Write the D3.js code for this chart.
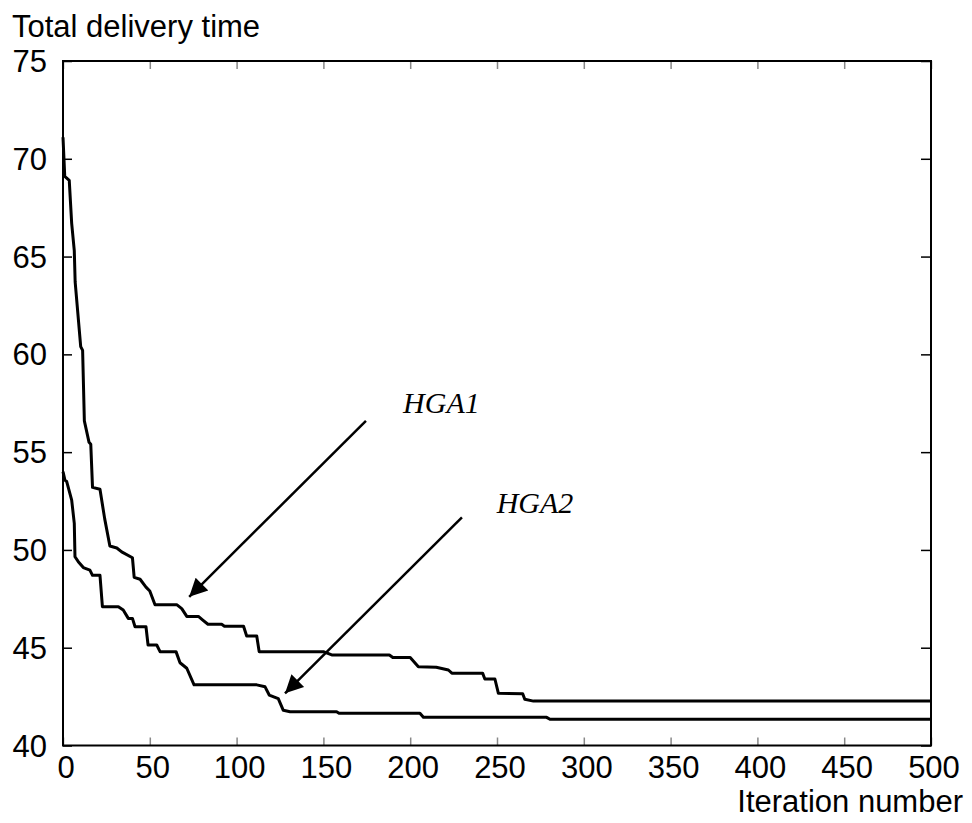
<!DOCTYPE html>
<html>
<head>
<meta charset="utf-8">
<script src="https://cdn.jsdelivr.net/npm/d3@7"></script>
<style>
  html, body { margin: 0; padding: 0; background: #fff; }
  svg { display: block; }
</style>
</head>
<body>
<svg id="chart" width="972" height="823"></svg>
<script>
// ---- data ----
const xTicks = [0, 50, 100, 150, 200, 250, 300, 350, 400, 450, 500];
const yTicks = [40, 45, 50, 55, 60, 65, 70, 75];

const hga1Iter = [0, 1, 3.6, 5, 6.5, 7, 10.2, 11.3, 12.3, 15, 16, 17, 21.3, 24, 27, 31, 33.8, 40, 41, 44.4, 47.8, 50, 53, 65.5, 68.4, 71.3, 78, 80.7, 83.5, 91.4, 93, 104, 105.8, 111.6, 113, 150, 154.8, 188, 190, 200, 204.7, 215, 222, 224, 241.7, 243, 248.8, 250.8, 264.8, 266, 271, 500];
const hga1Value = [71.1, 69.1, 68.9, 66.7, 65.3, 63.7, 60.4, 60.2, 56.6, 55.5, 55.4, 53.2, 53.1, 51.6, 50.2, 50.1, 49.9, 49.6, 48.6, 48.5, 48.1, 47.9, 47.2, 47.2, 47.0, 46.6, 46.6, 46.4, 46.2, 46.2, 46.1, 46.1, 45.6, 45.6, 44.8, 44.8, 44.63, 44.63, 44.5, 44.5, 44.03, 44.0, 43.86, 43.7, 43.7, 43.4, 43.4, 42.67, 42.65, 42.36, 42.27, 42.27];

const hga2Iter = [0, 1.1, 2.1, 5, 6.5, 6.9, 8.8, 11.7, 15.5, 17, 21.3, 22.7, 31.9, 34.7, 37.6, 40, 41.5, 47.8, 49, 54, 55.9, 65.1, 67.4, 71.3, 75.5, 111.6, 116.4, 118.8, 124, 126.9, 130.8, 157.6, 159, 205.6, 207.6, 278.6, 280.5, 500];
const hga2Value = [54.0, 53.57, 53.5, 52.55, 51.36, 49.65, 49.4, 49.1, 48.97, 48.7, 48.7, 47.1, 47.1, 46.93, 46.5, 46.5, 46.07, 46.07, 45.14, 45.14, 44.8, 44.8, 44.23, 43.95, 43.1, 43.1, 43.0, 42.58, 42.4, 41.8, 41.73, 41.73, 41.65, 41.65, 41.44, 41.44, 41.34, 41.34];

const labelNames = ["HGA1", "HGA2"];
const labelIter = [195.9, 249.8];
const labelValue = [57.0, 51.87];
const arrowFromIter = [174.5, 229.8];
const arrowFromValue = [56.6, 51.67];
const arrowToIter = [72.7, 127.9];
const arrowToValue = [47.6, 42.67];

const yTitle = "Total delivery time";
const xTitle = "Iteration number";

// ---- drawing ----
(function () {
const svg = d3.select("#chart");
const mLeft = 63, mRight = 931, mTop = 61, mBottom = 745.5;

const x = d3.scaleLinear().domain([0, 500]).range([mLeft, mRight]);
const y = d3.scaleLinear().domain([40, 75]).range([mBottom, mTop]);

const sans = "Liberation Sans, Arial, sans-serif";
const fs = 31;

// arrow marker
svg.append("defs").append("marker")
  .attr("id", "arrowhead")
  .attr("viewBox", "0 0 10 10")
  .attr("refX", 10).attr("refY", 5)
  .attr("markerUnits", "userSpaceOnUse")
  .attr("markerWidth", 26).attr("markerHeight", 18)
  .attr("orient", "auto")
  .append("path")
  .attr("d", "M0,0 L10,5 L0,10 z")
  .attr("fill", "#000");

// x ticks (grey, inside, bottom and top)
const xAxisB = d3.axisBottom(x).tickValues(xTicks).tickSize(-8).tickFormat("");
const gxb = svg.append("g").attr("transform", `translate(0,${mBottom})`).call(xAxisB);
gxb.select(".domain").remove();
gxb.selectAll(".tick line").attr("stroke", "#888").attr("stroke-width", 1.5);

const xAxisT = d3.axisTop(x).tickValues(xTicks).tickSize(-8).tickFormat("");
const gxt = svg.append("g").attr("transform", `translate(0,${mTop})`).call(xAxisT);
gxt.select(".domain").remove();
gxt.selectAll(".tick line").attr("stroke", "#888").attr("stroke-width", 1.5);

// y ticks (black, inside, left and right)
const yAxisL = d3.axisLeft(y).tickValues(yTicks).tickSize(-9).tickFormat("");
const gyl = svg.append("g").attr("transform", `translate(${mLeft},0)`).call(yAxisL);
gyl.select(".domain").remove();
gyl.selectAll(".tick line").attr("stroke", "#000").attr("stroke-width", 1.5);

const yAxisR = d3.axisRight(y).tickValues(yTicks).tickSize(-10).tickFormat("");
const gyr = svg.append("g").attr("transform", `translate(${mRight},0)`).call(yAxisR);
gyr.select(".domain").remove();
gyr.selectAll(".tick line").attr("stroke", "#000").attr("stroke-width", 1.5);

// frame
svg.append("rect")
  .attr("x", mLeft).attr("y", mTop)
  .attr("width", mRight - mLeft).attr("height", mBottom - mTop)
  .attr("fill", "none").attr("stroke", "#000").attr("stroke-width", 2);

// tick labels
svg.append("g").selectAll("text").data(xTicks).join("text")
  .attr("x", d => x(d) + 3)
  .attr("y", 778)
  .attr("text-anchor", "middle")
  .attr("font-family", sans).attr("font-size", fs)
  .text(d => d);

svg.append("g").selectAll("text").data(yTicks).join("text")
  .attr("x", 47)
  .attr("y", d => y(d) + 11)
  .attr("text-anchor", "end")
  .attr("font-family", sans).attr("font-size", fs)
  .text(d => d);

// axis titles
svg.append("text").attr("x", 12).attr("y", 37)
  .attr("font-family", sans).attr("font-size", fs).text(yTitle);
svg.append("text").attr("x", 963).attr("y", 812)
  .attr("text-anchor", "end")
  .attr("font-family", sans).attr("font-size", fs).text(xTitle);

// series
const line = d3.line().x(d => x(d[0])).y(d => y(d[1]));
const series = [
  d3.zip(hga1Iter, hga1Value),
  d3.zip(hga2Iter, hga2Value)
];
svg.append("g").selectAll("path").data(series).join("path")
  .attr("d", line)
  .attr("fill", "none")
  .attr("stroke", "#000")
  .attr("stroke-width", 3)
  .attr("stroke-linejoin", "round");

// arrows
svg.append("g").selectAll("line").data(d3.range(arrowFromIter.length)).join("line")
  .attr("x1", i => x(arrowFromIter[i])).attr("y1", i => y(arrowFromValue[i]))
  .attr("x2", i => x(arrowToIter[i])).attr("y2", i => y(arrowToValue[i]))
  .attr("stroke", "#000").attr("stroke-width", 2.5)
  .attr("marker-end", "url(#arrowhead)");

// labels
svg.append("g").selectAll("text").data(d3.range(labelNames.length)).join("text")
  .attr("x", i => x(labelIter[i])).attr("y", i => y(labelValue[i]))
  .attr("font-family", "Liberation Serif, Times New Roman, serif")
  .attr("font-style", "italic")
  .attr("font-size", 30)
  .text(i => labelNames[i]);
})();
</script>
</body>
</html>
